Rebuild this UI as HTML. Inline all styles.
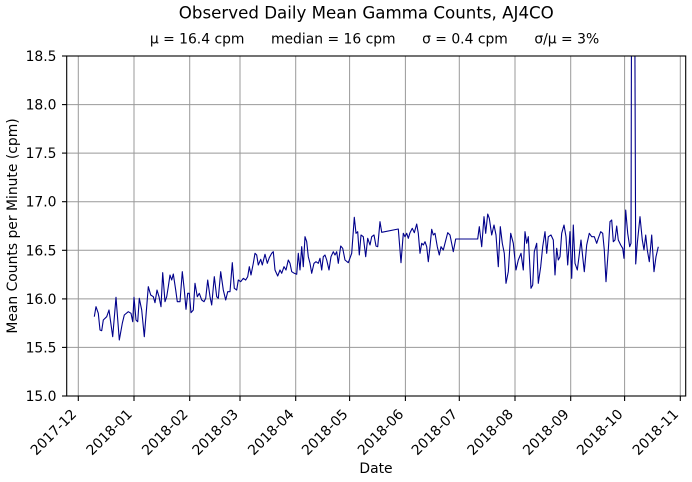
<!DOCTYPE html>
<html><head><meta charset="utf-8"><style>
html,body{margin:0;padding:0;background:#fff;}
svg{display:block;}
text{font-family:"DejaVu Sans","Liberation Sans",sans-serif;fill:#000;}
</style></head><body>
<svg width="692" height="482" viewBox="0 0 692 482" xmlns="http://www.w3.org/2000/svg">
<defs><clipPath id="c"><rect x="66.7" y="56" width="619" height="340"/></clipPath></defs>
<rect x="0" y="0" width="692" height="482" fill="#fff"/>
<g stroke="#999" stroke-width="1" fill="none">
<line x1="78.3" y1="56" x2="78.3" y2="396"/>
<line x1="134" y1="56" x2="134" y2="396"/>
<line x1="189.7" y1="56" x2="189.7" y2="396"/>
<line x1="240" y1="56" x2="240" y2="396"/>
<line x1="295.7" y1="56" x2="295.7" y2="396"/>
<line x1="349.6" y1="56" x2="349.6" y2="396"/>
<line x1="405.4" y1="56" x2="405.4" y2="396"/>
<line x1="459.3" y1="56" x2="459.3" y2="396"/>
<line x1="515" y1="56" x2="515" y2="396"/>
<line x1="570.7" y1="56" x2="570.7" y2="396"/>
<line x1="624.6" y1="56" x2="624.6" y2="396"/>
<line x1="680.3" y1="56" x2="680.3" y2="396"/>
<line x1="66.7" y1="104.6" x2="685.7" y2="104.6"/>
<line x1="66.7" y1="153.1" x2="685.7" y2="153.1"/>
<line x1="66.7" y1="201.7" x2="685.7" y2="201.7"/>
<line x1="66.7" y1="250.3" x2="685.7" y2="250.3"/>
<line x1="66.7" y1="298.9" x2="685.7" y2="298.9"/>
<line x1="66.7" y1="347.4" x2="685.7" y2="347.4"/>
</g>
<g clip-path="url(#c)">
<polyline fill="none" stroke="#00008b" stroke-width="1.1" stroke-linejoin="round" points="
94.3,316.7 96,306.7 98.3,313.3 100,330 101.7,330.7 103.3,320 106.7,316.7 109,310 112.7,336.7 116,297.3 119.3,340 122.3,323.3 124.3,315 128.3,311.7 131,313.3 132.7,321.7 134,297.3 136,320 137.7,321.7 139.3,298.3 141.7,310 144.3,336.7 146.7,306.7 148.3,286.7 150.7,295 153.3,296.7 155,302.7 157,290 159,296.7 161,306.7 162.7,272.7 165,301.7 166.7,296.7 168.3,286.7 170,275 171.7,280 173.3,274 175.7,290 177.3,301.7 180,301.7 182.3,271.7 184.3,290 186,309.3 187.7,293.3 189.3,293.3 191,312.7 193.3,310 195,283.3 197.3,296.7 199.3,293.3 201.7,300 204,301.7 205.7,298.3
207.7,280 210,296.7 211.7,305 214.3,276.7 216.7,296.7 218.3,298.3 220.7,271.7 223.3,290 225.7,300 227.7,291.7 230,291.7 232.3,262.7 234.3,288.3 236.7,290 238.3,280 240.7,281.7 243.3,278.3 245.7,280 247.7,276.7 249.3,266.7 251,275 253.3,263.3 255,253.3 256.7,255 258.3,265 260.7,259.3 262.3,265 265,254.3 267.3,263.3 269.3,257.7 271.7,253.3 273.3,251.7 275,270 277.7,276 280,270 281.7,273.3 284,266.7 286,270 288.3,260 290,263.3 291.7,271.7 294.3,273.3 296.7,274.3 298.3,253.3 300,270 301.7,246.7 303.3,266.7 305,236.7 306.7,241.7 308.3,256.7 310,263.3 311.7,273.3 314,263.3 316,261.7 318.3,263.3 320,258.3 321.7,270 323.3,256.7
325,255 326.7,260 329,270 331,256.7 333.3,251.7 335,255 336.7,251.7 338.3,263.3 340.7,246 342.7,248.3 345,260 348.3,262.7 351.7,253.3 354.3,217.3 356,233.3 357.7,231.7 359.3,255 361,235 363.3,236.7 365.7,256.7 367.7,238.3 370,245 371.7,236.7 374,235 376,246 377.7,246.7 380,221.7 381.7,232.3 398.3,229 401,262.7 403.3,233.3 405,236.7 406.7,233.3 408.3,238.3 410,232.7 412.3,228.3 414.3,232.7 416.7,224 418.3,233.3 420,253.3 421.7,243.3 423.3,245 425,241.7 426.7,246.7 428.3,261.7 430,246.7 431.7,229.3 433.3,235 435,233.3 437.3,246.7 439.3,255 441,246.7 443.3,250
445,243.3 447.7,232.7 450,235 453.3,251.7 455.7,239 477.7,239 479.3,226.7 481.7,246.7 484,216.7 485.7,233.3 487.7,214 489.3,218.3 491.7,235 494,225 496,235 498.3,266.7 500.3,226.7 502.3,243.3 504.3,253.3 506,283.3 508.3,271.7 510.7,233.3 513.3,243.3 516,270 518.3,260 521,253.3 523.3,270 525,231.7 526.7,243.3 528.3,236.7 531,288.3 532.7,285 534.3,251.7 536.7,243.3 538.3,283.3 540.7,266.7 542.7,246.7 545,231.7 546.7,253.3 548.3,236.7 551,235 553.3,240
555,275 556.7,248.3 558.3,260 560,256.7 561.7,233.3 564,225 566,236.7 567.7,265 570,231.7 571.7,278.3 573.3,225 575,263.3 577.3,270 579,256.7 581,240 582.7,256.7 584.3,271.7 586.7,245 589.3,233.3 591.7,236.7 594.3,236.7 596.7,243.3 598.3,238.3 600.7,231.7 602.7,233.3 604.3,250 606,281.7 608.3,250 610,221.7 611.7,220 613.3,241.7 615,240 616.7,226 618.3,240 620.7,245 622.7,248.3 624,258.3 625.7,210 627.7,233.3 629.7,246.7 631,243.3 632,-200 634,-200 635.7,264 637.3,243.3 640,216.7 642.3,240 644,250 645.7,235 647.3,250 649.3,261.7 651.7,235 654,271.7 656,256.7 658.3,246.7"/>
</g>
<rect x="66.7" y="56" width="619" height="340" fill="none" stroke="#000" stroke-width="1.1"/>
<g stroke="#000" stroke-width="1.1">
<line x1="62" y1="56" x2="66.7" y2="56"/>
<line x1="62" y1="104.6" x2="66.7" y2="104.6"/>
<line x1="62" y1="153.1" x2="66.7" y2="153.1"/>
<line x1="62" y1="201.7" x2="66.7" y2="201.7"/>
<line x1="62" y1="250.3" x2="66.7" y2="250.3"/>
<line x1="62" y1="298.9" x2="66.7" y2="298.9"/>
<line x1="62" y1="347.4" x2="66.7" y2="347.4"/>
<line x1="62" y1="396" x2="66.7" y2="396"/>
<line x1="78.3" y1="396" x2="78.3" y2="401"/>
<line x1="134" y1="396" x2="134" y2="401"/>
<line x1="189.7" y1="396" x2="189.7" y2="401"/>
<line x1="240" y1="396" x2="240" y2="401"/>
<line x1="295.7" y1="396" x2="295.7" y2="401"/>
<line x1="349.6" y1="396" x2="349.6" y2="401"/>
<line x1="405.4" y1="396" x2="405.4" y2="401"/>
<line x1="459.3" y1="396" x2="459.3" y2="401"/>
<line x1="515" y1="396" x2="515" y2="401"/>
<line x1="570.7" y1="396" x2="570.7" y2="401"/>
<line x1="624.6" y1="396" x2="624.6" y2="401"/>
<line x1="680.3" y1="396" x2="680.3" y2="401"/>
</g>
<g font-size="13.9" text-anchor="end">
<text x="56.5" y="61">18.5</text>
<text x="56.5" y="109.6">18.0</text>
<text x="56.5" y="158.1">17.5</text>
<text x="56.5" y="206.7">17.0</text>
<text x="56.5" y="255.3">16.5</text>
<text x="56.5" y="303.9">16.0</text>
<text x="56.5" y="352.4">15.5</text>
<text x="56.5" y="401">15.0</text>
</g>
<g font-size="13.9" text-anchor="end">
<text transform="translate(77.3,415) rotate(-45)">2017-12</text>
<text transform="translate(133,415) rotate(-45)">2018-01</text>
<text transform="translate(188.7,415) rotate(-45)">2018-02</text>
<text transform="translate(239,415) rotate(-45)">2018-03</text>
<text transform="translate(294.7,415) rotate(-45)">2018-04</text>
<text transform="translate(348.6,415) rotate(-45)">2018-05</text>
<text transform="translate(404.4,415) rotate(-45)">2018-06</text>
<text transform="translate(458.3,415) rotate(-45)">2018-07</text>
<text transform="translate(514,415) rotate(-45)">2018-08</text>
<text transform="translate(569.7,415) rotate(-45)">2018-09</text>
<text transform="translate(623.6,415) rotate(-45)">2018-10</text>
<text transform="translate(679.3,415) rotate(-45)">2018-11</text>
</g>
<text x="376" y="473" font-size="13.9" text-anchor="middle">Date</text>
<text transform="translate(17,226) rotate(-90)" font-size="13.9" text-anchor="middle">Mean Counts per Minute (cpm)</text>
<text x="366.3" y="18.5" font-size="16.67" text-anchor="middle">Observed Daily Mean Gamma Counts, AJ4CO</text>
<text x="374.5" y="43.5" font-size="13.9" text-anchor="middle" xml:space="preserve" style="white-space:pre">μ = 16.4 cpm      median = 16 cpm      σ = 0.4 cpm      σ/μ = 3%</text>
</svg>
</body></html>
